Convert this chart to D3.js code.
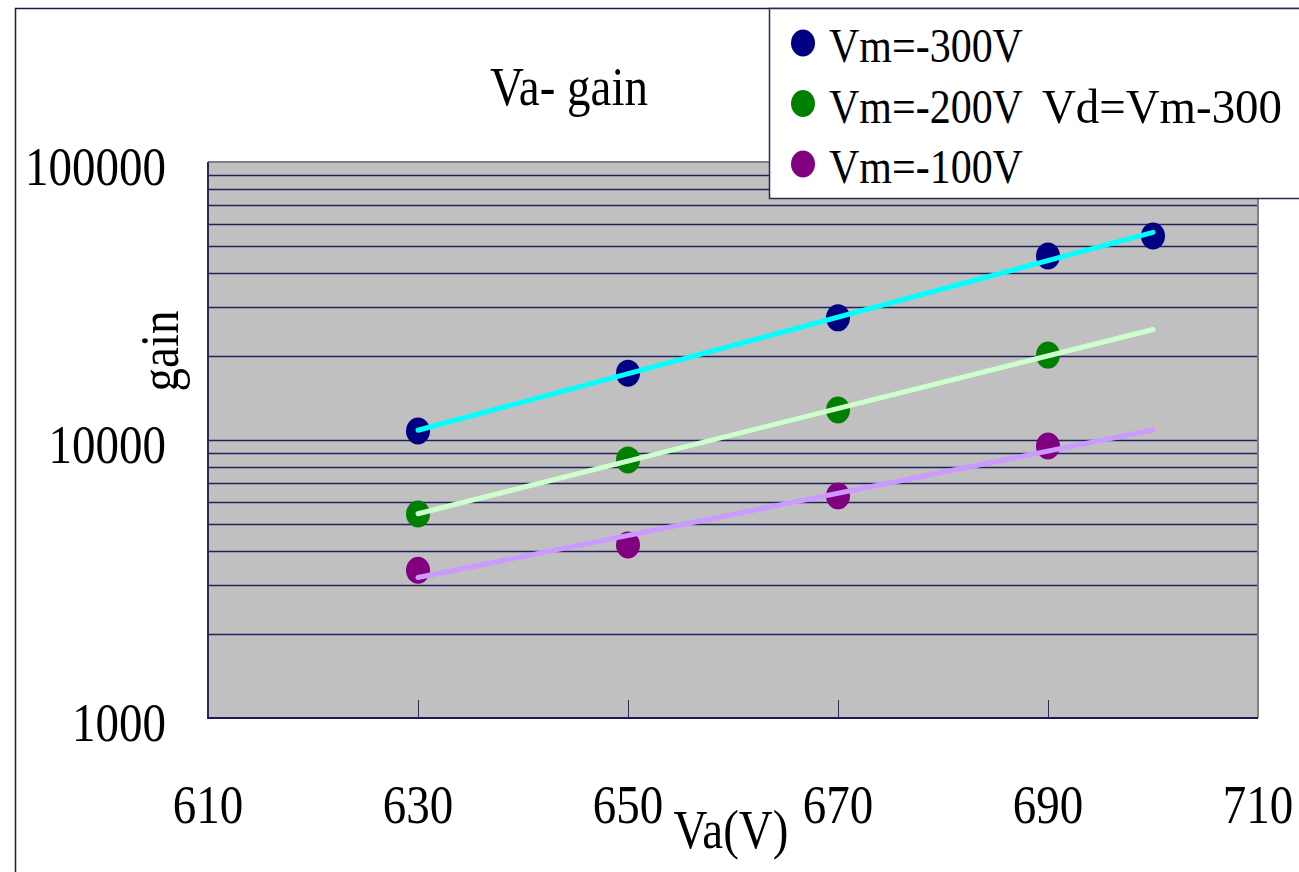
<!DOCTYPE html>
<html>
<head>
<meta charset="utf-8" />
<title>Va- gain</title>
<style>
html, body {
    margin: 0;
    padding: 0;
    background: #fff;
}
svg text {
    font-family: "Liberation Serif", "Times New Roman", serif;
    fill: #000;
}
</style>
</head>
<body>
<svg id="chart" width="1299" height="872"></svg>
<script src="https://cdnjs.cloudflare.com/ajax/libs/d3/7.8.5/d3.min.js"></script>
<script>
// data
var va = [630, 650, 670, 690, 700]
var gain300 = [10780, 17400, 27500, 45900, 54200]
var gain200 = [5420, 8480, 12820, 20200]
var gain100 = [3400, 4190, 6290, 9510]
var seriesNames = ["Vm=-300V", "Vm=-200V", "Vm=-100V"]
var xTicks = [610, 630, 650, 670, 690, 710]
var yTicks = [1000, 10000, 100000]
var trendRange = [630, 700]

var markerColors = ["#000080", "#008000", "#800080"]
var trendColors = ["#00ffff", "#ccffcc", "#cc99ff"]
var gridColor = "#22225c"
var stretch = 1.18   // text in the source is vertically stretched

var svg = d3.select("#chart")

var plot = {left: 208, top: 162, right: 1258, bottom: 718}

var x = d3.scaleLinear().domain([610, 710]).range([plot.left, plot.right])
var y = d3.scaleLog().domain([1000, 100000]).range([plot.bottom, plot.top])

var series = [gain300, gain200, gain100].map(function(g, i) {
    return {
        name: seriesNames[i],
        points: g.map(function(v, j) { return {x: va[j], y: v} }),
        marker: markerColors[i],
        trend: trendColors[i]
    }
})

// outer frame
svg.append("rect")
    .attr("x", 15.5).attr("y", 8.5)
    .attr("width", 1400).attr("height", 1000)
    .attr("fill", "none")
    .attr("stroke", "#1a1a50")
    .attr("stroke-width", 1.5)

// plot background
svg.append("rect")
    .attr("x", plot.left).attr("y", plot.top)
    .attr("width", plot.right - plot.left)
    .attr("height", plot.bottom - plot.top)
    .attr("fill", "#c0c0c0")

// horizontal grid on every log tick
var gridVals = y.ticks().filter(function(v) { return v > 1000 && v < 100000 })
svg.append("g").selectAll("line")
    .data(gridVals)
    .enter()
    .append("line")
    .attr("x1", plot.left).attr("x2", plot.right)
    .attr("y1", function(d) { return Math.round(y(d)) + 0.5 })
    .attr("y2", function(d) { return Math.round(y(d)) + 0.5 })
    .attr("stroke", gridColor)
    .attr("stroke-width", 1.4)

// plot border: grey top / right, navy left / bottom
svg.append("line")
    .attr("x1", plot.left).attr("x2", plot.right)
    .attr("y1", plot.top).attr("y2", plot.top)
    .attr("stroke", "#808080").attr("stroke-width", 2)
svg.append("line")
    .attr("x1", plot.right).attr("x2", plot.right)
    .attr("y1", plot.top).attr("y2", plot.bottom)
    .attr("stroke", "#808080").attr("stroke-width", 2)
svg.append("line")
    .attr("x1", plot.left).attr("x2", plot.left)
    .attr("y1", plot.top).attr("y2", plot.bottom + 1)
    .attr("stroke", "#2a2a5a").attr("stroke-width", 2)
svg.append("line")
    .attr("x1", plot.left).attr("x2", plot.right)
    .attr("y1", plot.bottom).attr("y2", plot.bottom)
    .attr("stroke", "#1a1a5a").attr("stroke-width", 2)

// small inside ticks on the x axis
svg.append("g").selectAll("line")
    .data(xTicks.slice(1, -1))
    .enter()
    .append("line")
    .attr("x1", function(d) { return Math.round(x(d)) + 0.5 })
    .attr("x2", function(d) { return Math.round(x(d)) + 0.5 })
    .attr("y1", plot.bottom - 18).attr("y2", plot.bottom)
    .attr("stroke", "#2a2a5a").attr("stroke-width", 1)

function stretchedText(g, tx, ty, str, size, anchor) {
    return g.append("text")
        .attr("transform", "translate(" + tx + "," + ty + ") scale(1," + stretch + ")")
        .attr("text-anchor", anchor || "start")
        .attr("font-size", size)
        .text(str)
}

// tick labels
yTicks.forEach(function(t) {
    stretchedText(svg, 166, y(t) + 23, String(t), 47, "end")
})
xTicks.forEach(function(t) {
    stretchedText(svg, x(t), 823, String(t), 47, "middle")
})

// titles
stretchedText(svg, 569, 105, "Va- gain", 47, "middle")
stretchedText(svg, 731, 848, "Va(V)", 47, "middle")
svg.append("text")
    .attr("transform", "translate(178,351) rotate(-90) scale(1," + stretch + ")")
    .attr("text-anchor", "middle")
    .attr("font-size", 47)
    .text("gain")

// exponential trend lines (least squares on log10 gain)
function fitLog(points) {
    var mx = d3.mean(points, function(p) { return p.x })
    var my = d3.mean(points, function(p) { return Math.log10(p.y) })
    var num = d3.sum(points, function(p) { return (p.x - mx) * (Math.log10(p.y) - my) })
    var den = d3.sum(points, function(p) { return (p.x - mx) * (p.x - mx) })
    var b = num / den
    return function(v) { return Math.pow(10, my + b * (v - mx)) }
}

var line = d3.line()
    .x(function(d) { return x(d[0]) })
    .y(function(d) { return y(d[1]) })

series.forEach(function(s) {
    var f = fitLog(s.points)
    s.trendPts = trendRange.map(function(v) { return [v, f(v)] })
})

// markers go under the trend lines
series.forEach(function(s) {
    svg.append("g").selectAll("ellipse")
        .data(s.points)
        .enter()
        .append("ellipse")
        .attr("cx", function(d) { return x(d.x) })
        .attr("cy", function(d) { return y(d.y) })
        .attr("rx", 12)
        .attr("ry", 13.5)
        .attr("fill", s.marker)
})

series.forEach(function(s) {
    svg.append("path")
        .datum(s.trendPts)
        .attr("d", line)
        .attr("fill", "none")
        .attr("stroke", s.trend)
        .attr("stroke-width", 5)
        .attr("stroke-linecap", "round")
})

// legend
var legend = svg.append("g")
legend.append("rect")
    .attr("x", 769.5).attr("y", 8.5)
    .attr("width", 600).attr("height", 190)
    .attr("fill", "#fff")
    .attr("stroke", "#2a2a5a")
    .attr("stroke-width", 1.5)

series.forEach(function(s, i) {
    var rowY = 43 + i * 60.5
    legend.append("ellipse")
        .attr("cx", 803).attr("cy", rowY)
        .attr("rx", 12).attr("ry", 13.5)
        .attr("fill", s.marker)
    stretchedText(legend, 829, rowY + 19, s.name, 42)
})
stretchedText(legend, 1042, 43 + 60.5 + 19, "Vd=Vm-300", 42)
    .attr("textLength", 240)
    .attr("lengthAdjust", "spacingAndGlyphs")
</script>
</body>
</html>
